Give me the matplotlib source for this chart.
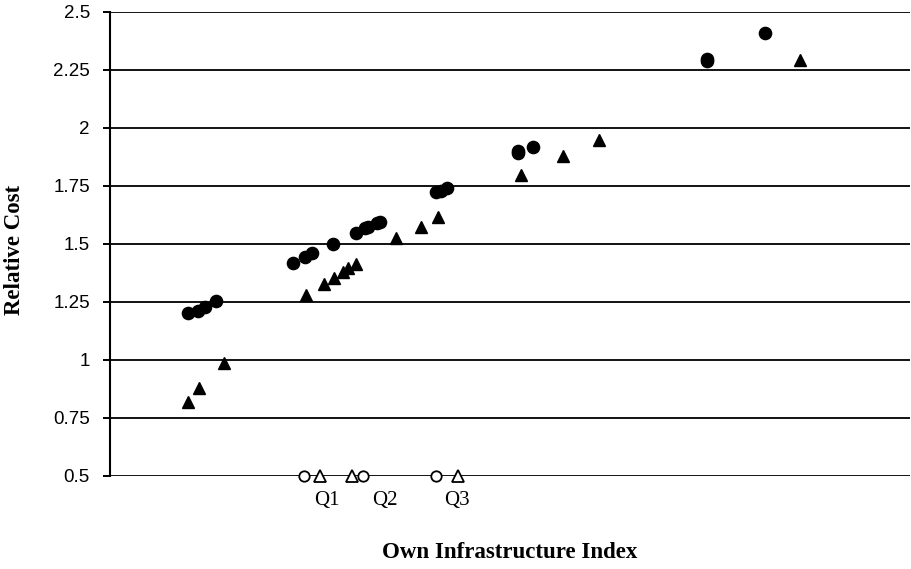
import numpy as np
import matplotlib
matplotlib.use("Agg")
import matplotlib.pyplot as plt

# own infrastructure index (no scale shown on the chart) and relative cost
circle_x = [9.8, 11.0, 11.9, 13.3, 22.9, 24.4, 25.3, 27.9, 30.8, 31.9, 32.3,
            33.4, 33.8, 40.8, 41.4, 42.1, 51.0, 51.0, 52.9, 74.6, 74.6, 81.9]
circle_y = [1.200, 1.209, 1.226, 1.252, 1.416, 1.442, 1.459, 1.498, 1.545, 1.567,
            1.571, 1.588, 1.593, 1.722, 1.726, 1.739, 1.899, 1.890, 1.916, 2.295,
            2.287, 2.407]

tri_x = [9.8, 11.1, 14.3, 24.5, 26.8, 28.0, 29.1, 29.8, 30.8, 35.8, 38.9, 41.0,
         51.4, 56.6, 61.1, 86.3]
tri_y = [0.817, 0.877, 0.985, 1.278, 1.325, 1.351, 1.377, 1.394, 1.412, 1.524,
         1.571, 1.614, 1.795, 1.877, 1.946, 2.291]

# quartiles of the index for each group
q_circle_x = [24.2, 31.6, 40.8]
q_tri_x = [26.3, 30.3, 43.5]
q_labels = ["Q1", "Q2", "Q3"]
q_label_x = [27.1, 34.4, 43.4]

yticks = [0.5, 0.75, 1, 1.25, 1.5, 1.75, 2, 2.25, 2.5]
ytick_labels = ["0.5", "0.75", "1", "1.25", "1.5", "1.75", "2", "2.25", "2.5"]

serif = "Liberation Serif"
sans = "Liberation Sans"

fig = plt.figure(figsize=(9.11, 5.69), dpi=100)
ax = fig.add_axes([110 / 911, 1 - 475.5 / 569, 800 / 911, 463.8 / 569])

ax.plot(circle_x, circle_y, "o", color="black", markersize=8.8, clip_on=False, zorder=3)
ax.plot(tri_x, tri_y, "^", color="black", markersize=8.7, clip_on=False, zorder=3)

ax.plot(q_circle_x, [0.5] * 3, "o", markerfacecolor="white", markeredgecolor="black",
        markersize=7.5, markeredgewidth=1.3, clip_on=False, zorder=3)
ax.plot(q_tri_x, [0.5] * 3, "^", markerfacecolor="white", markeredgecolor="black",
        markersize=8, markeredgewidth=1.3, clip_on=False, zorder=3)
for lx, lab in zip(q_label_x, q_labels):
    ax.annotate(lab, (lx, 0.5), xytext=(0, -11), textcoords="offset points",
                ha="center", va="top", fontsize=15, fontfamily=serif)

ax.set_xlim(0, 100)
ax.set_ylim(0.5, 2.5)
ax.set_yticks(yticks)
ax.set_yticklabels(ytick_labels, fontfamily=sans, fontsize=13.5)
ax.tick_params(axis="y", length=5, width=1.4, pad=9.5, color="black")
ax.set_xticks([])
ax.yaxis.grid(True, color="black", linewidth=1.3)
ax.set_axisbelow(True)
for side in ["top", "right", "bottom"]:
    ax.spines[side].set_visible(False)
ax.spines["left"].set_linewidth(1.5)

fig.text(15 / 911, 1 - 250 / 569, "Relative Cost", rotation=90, ha="center", va="center",
         fontsize=16.5, fontweight="bold", fontfamily=serif)
fig.text(510 / 911, 1 - 552 / 569, "Own Infrastructure Index", ha="center", va="center",
         fontsize=16.5, fontweight="bold", fontfamily=serif)

fig.savefig("out.png", dpi=100)
